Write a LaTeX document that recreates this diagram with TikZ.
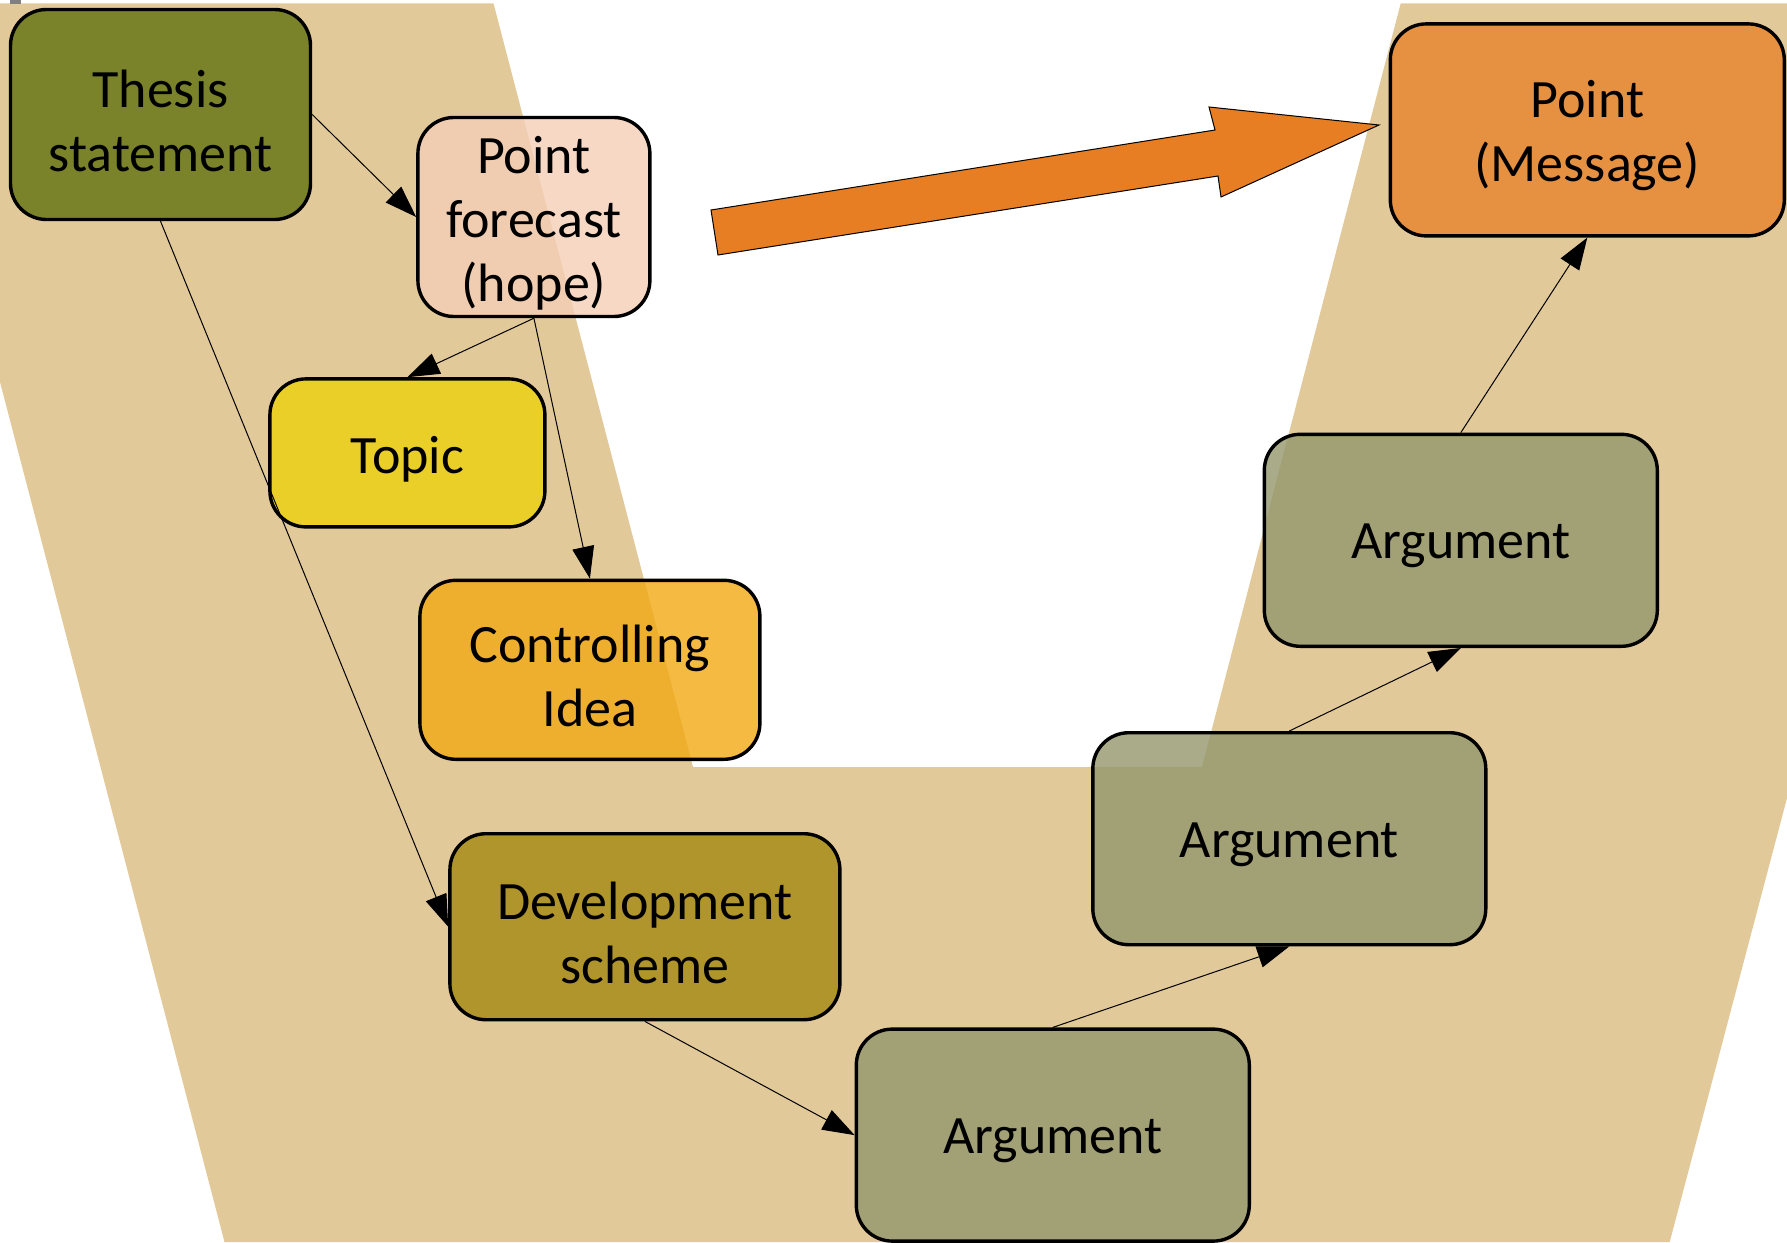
\documentclass[tikz,border=0pt]{standalone}
\usepackage{fontspec}
\setmainfont{Carlito}
\usetikzlibrary{positioning,arrows.meta}
\definecolor{sand}{RGB}{226,201,154}
\definecolor{bigarrow}{RGB}{231,126,35}
\definecolor{thesisfill}{RGB}{96,113,15}
\definecolor{forecastfill}{RGB}{244,206,182}
\definecolor{topicfill}{RGB}{235,209,12}
\definecolor{ideafill}{RGB}{241,169,19}
\definecolor{schemefill}{RGB}{164,136,18}
\definecolor{argfill}{RGB}{147,150,108}
\definecolor{pointfill}{RGB}{230,131,43}

\begin{document}
\begin{tikzpicture}[x=0.5pt, y=-0.5pt,
	stage/.style={draw, line width=1.7pt, rounded corners=18pt, fill opacity=0.8, text opacity=1, align=center, inner sep=0pt, font=\fontsize{27pt}{32pt}\selectfont,
		execute at begin node={\vbox\bgroup\vskip6pt\hbox\bgroup}, execute at end node={\egroup\egroup}},
	argbox/.style={stage, fill=argfill, minimum width=196.5pt, minimum height=106pt},
	link/.style={draw, -{Triangle[length=16pt, width=11pt]}, line width=0.5pt}]
	\useasboundingbox (0,0) rectangle (1787,1242);
	\fill[sand] (0,3.4) -- (493.5,3.4) -- (693,767) -- (1202,767) -- (1400.7,3.4) -- (1787,3.4) -- (1787,798) -- (1669.7,1242) -- (224.5,1242) -- (0,382) -- cycle;
	\fill[gray] (10,0) rectangle (21,4);
	\draw[fill=bigarrow, line width=0.5pt] (711,210) -- (1215,130) -- (1209,107) -- (1379,125) -- (1221,197) -- (1218,176) -- (718,255) -- cycle;

	\node[stage, fill=thesisfill, minimum width=150pt, minimum height=105pt] (thesis) at (160.5,114.5) {Thesis\\statement};
	\node[stage, fill=forecastfill, minimum width=116pt, minimum height=99.5pt, right=52pt of thesis, yshift=-51.25pt] (forecast) {Point\\forecast\\(hope)};
	\node[stage, fill=topicfill, minimum width=137.5pt, minimum height=74pt, below=29.5pt of forecast, xshift=-63.25pt] (topic) {Topic};
	\node[stage, fill=ideafill, minimum width=170pt, minimum height=89.5pt, below=25pt of topic, xshift=91.25pt] (idea) {Controlling\\Idea};
	\node[stage, fill=schemefill, minimum width=195pt, minimum height=93pt, below=35.5pt of idea, xshift=27.5pt] (scheme) {Development\\scheme};
	\node[argbox, below right=3pt and 6.5pt of scheme] (arg1) {Argument};
	\node[argbox, above=40.5pt of arg1, xshift=118.25pt] (arg2) {Argument};
	\node[argbox, above=41.5pt of arg2, xshift=85.75pt] (arg3) {Argument};
	\node[stage, fill=pointfill, minimum width=197pt, minimum height=106pt, above=97.5pt of arg3, xshift=63.25pt] (point) {Point\\(Message)};

	\path
		(thesis.east) edge[link] (forecast.west)
		(thesis.south) edge[link] (scheme.west)
		(forecast.south) edge[link] (topic.north)
		(forecast.south) edge[link] (idea.north)
		(scheme.south) edge[link] (arg1.west)
		(arg1.north) edge[link] (arg2.south)
		(arg2.north) edge[link] (arg3.south)
		(arg3.north) edge[link] (point.south);
\end{tikzpicture}
\end{document}
